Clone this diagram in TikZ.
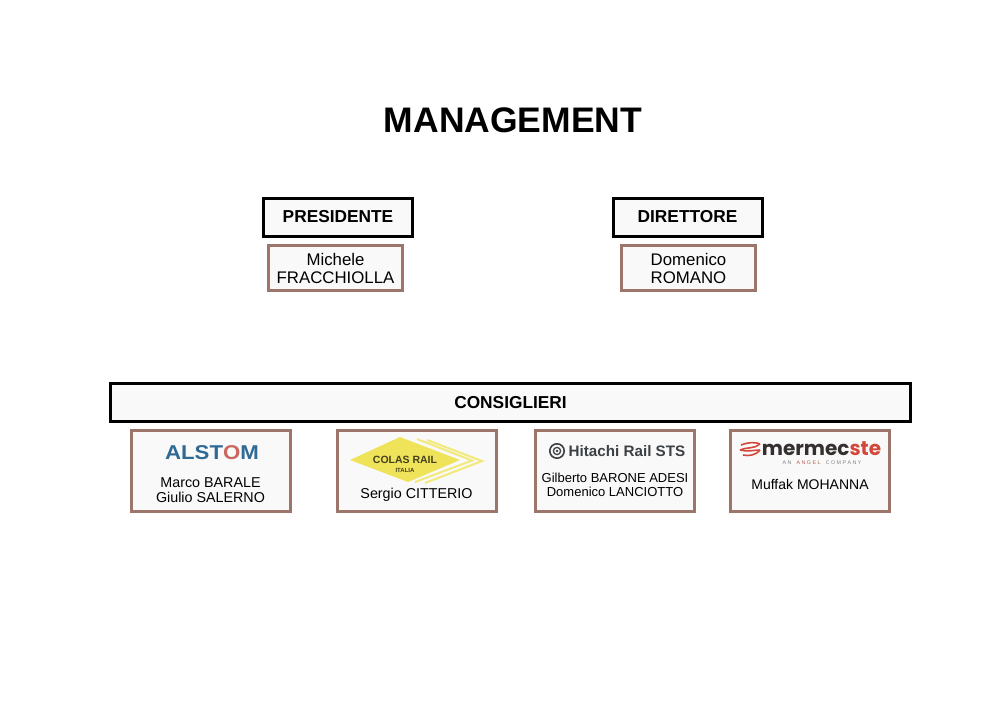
\documentclass[tikz,border=0pt]{standalone}
\usepackage{fontspec}
\setmainfont{Liberation Sans}
\newfontfamily\logofont{Poppins}
\definecolor{boxfill}{HTML}{FAF9F9}
\definecolor{namebrown}{HTML}{9C756B}
\definecolor{alstomblue}{HTML}{2F6A94}
\definecolor{alstomred}{HTML}{C8685F}
\definecolor{colasyellow}{HTML}{EFE35A}
\definecolor{colasdark}{HTML}{45401F}
\definecolor{hitachigrey}{HTML}{3B4144}
\definecolor{mermecdark}{HTML}{33302F}
\definecolor{mermecred}{HTML}{D2483A}
\tikzset{
  rolebox/.style={draw=black,line width=3pt,fill=boxfill,inner sep=0pt,font=\fontsize{17.3}{20}\selectfont\bfseries},
  namebox/.style={draw=namebrown,line width=3pt,fill=boxfill,inner sep=0pt,align=center,minimum width=134pt,minimum height=45pt,font=\fontsize{16.8}{18}\selectfont},
  firmbox/.style={draw=namebrown,line width=3pt,fill=boxfill,minimum width=159pt,minimum height=81pt},
  firmname/.style={inner sep=0pt,align=center},
  logotext/.style={inner sep=0pt,font=\fontsize{#1}{#1}\selectfont\bfseries},
  chevron/.style={draw=colasyellow!80!white,line width=2pt},
}
\begin{document}
\begin{tikzpicture}[x=1pt,y=-1pt]
        \useasboundingbox (0,0) rectangle (1000,707);
        \node[inner sep=0pt,font=\fontsize{35.5}{40}\selectfont\bfseries] (title) at (513,120) {MANAGEMENT};
        \node[rolebox,minimum width=149pt,minimum height=38pt] (presidente) at (338,217) {PRESIDENTE};
        \node[rolebox,minimum width=149pt,minimum height=38pt] (direttore) at (687.5,217) {DIRETTORE};
        \node[namebox] (michele) at (335.5,268) {Michele\\FRACCHIOLLA};
        \node[namebox] (domenico) at (688.5,268) {Domenico\\ROMANO};
        \node[rolebox,minimum width=800pt,minimum height=38pt] (consiglieri) at (510.5,402.5) {CONSIGLIERI};
        \node[firmbox] (alstombox) at (211,471) {};
        \node[firmbox] (colasbox) at (417,471) {};
        \node[firmbox] (hitachibox) at (615,471) {};
        \node[firmbox] (mermecbox) at (810,471) {};
        % logos
        \node[logotext=20,transform shape,xscale=1.11,text=alstomblue] (alstom) at (212,453) {ALST\textcolor{alstomred}{O}M};
        \draw[chevron] (427,440) -- (482,461) -- (425,483);
        \draw[chevron] (417,439) -- (472,460.5) -- (415,482);
        \fill[colasyellow] (350,460) -- (400,437) -- (460,460) -- (408,482) -- cycle;
        \node[logotext=10.5,text=colasdark] (colas) at (405,460) {COLAS RAIL};
        \node[logotext=6,text=colasdark] (italia) at (405,470) {ITALIA};
        \draw[hitachigrey,line width=1.6pt] (557,451) circle (7.2pt);
        \draw[hitachigrey,line width=1.3pt] (557,451) circle (3.6pt);
        \fill[hitachigrey] (557,451) circle (1.4pt);
        \node[logotext=15.2,text=hitachigrey] (hitachi) at (627,451.5) {Hitachi Rail STS};
        \draw[mermecred,line width=1.6pt] (741,445) .. controls (748,442) and (756,442) .. (760,444);
        \draw[mermecred,line width=1.6pt] (760,444) .. controls (755,449) and (746,447) .. (740,450);
        \draw[mermecred,line width=1.6pt] (740,450) .. controls (747,452) and (755,450) .. (760,450);
        \draw[mermecred,line width=1.6pt] (760,450) .. controls (755,456) and (748,456) .. (743,455);
        \node[anchor=base,inner sep=0pt,font=\logofont\fontsize{20}{20}\selectfont\bfseries] (mermec) at (821.5,455) {\textcolor{mermecdark}{mermec}\textcolor{mermecred}{ste}};
        \node[inner sep=0pt,text=gray,font=\fontsize{5.3}{6}\selectfont] (angel) at (822,462.5) {A N\quad \textcolor{mermecred!70!gray}{A N G E L}\quad C O M P A N Y};
        % names
        \node[firmname,font=\fontsize{14.3}{15}\selectfont] (barale) at (210.5,490.5) {Marco BARALE\\Giulio SALERNO};
        \node[firmname,font=\fontsize{14.3}{15}\selectfont] (citterio) at (416.5,494.5) {Sergio CITTERIO};
        \node[firmname,font=\fontsize{13}{14}\selectfont] (barone) at (615,485) {Gilberto BARONE ADESI\\Domenico LANCIOTTO};
        \node[firmname,font=\fontsize{14}{15}\selectfont] (mohanna) at (810,484.5) {Muffak MOHANNA};
\end{tikzpicture}
\end{document}
